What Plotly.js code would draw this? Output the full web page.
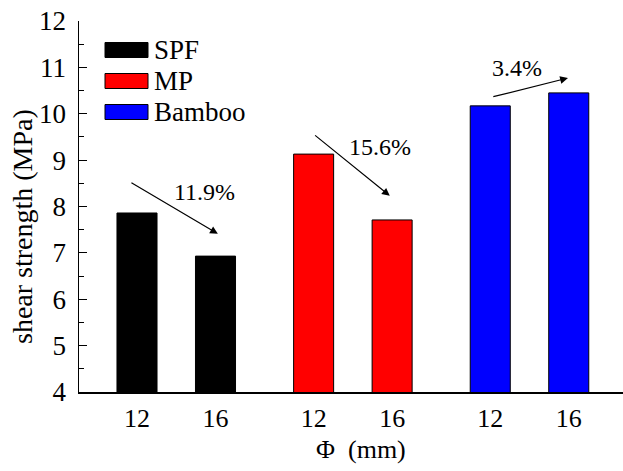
<!DOCTYPE html>
<html>
<head>
<meta charset="utf-8">
<script src="https://cdn.plot.ly/plotly-3.0.1.min.js"></script>
<style>html,body{margin:0;padding:0;background:#fff;overflow:hidden}#chart{width:623px;height:471px}</style>
</head>
<body>
<div id="chart"></div>
<script>
// ---- data ----
const groups = ['SPF', 'MP', 'Bamboo'];
const diameters = ['12', '16'];
const spfValues = [7.86, 6.93];
const mpValues = [9.13, 7.71];
const bambooValues = [10.17, 10.45];
const changeLabels = ['11.9%', '15.6%', '3.4%'];
const yTickLabels = ['4', '5', '6', '7', '8', '9', '10', '11', '12'];
const xTitle = 'Φ\u00a0\u00a0(mm)';
const yTitle = 'shear strength (MPa)';

// ---- styles / layout helpers ----
const seriesValues = [spfValues, mpValues, bambooValues];
const fillColors = ['#000000', '#ff0000', '#0000ff'];
const FONT = 'Liberation Serif';
const GROUP_STEP = 2.25;            // distance between group starts (bar units)
const xPos = (g, i) => g * GROUP_STEP + i;

// plot area in pixels
const L = 79, T = 21, R = 623, B = 392, W = 623, H = 471;
const pxToPaperX = px => (px - L) / (R - L);
const pxToPaperY = py => (B - py) / (B - T);

const traces = groups.map((name, g) => ({
  type: 'bar',
  name: name,
  x: diameters.map((d, i) => xPos(g, i)),
  y: seriesValues[g],
  width: 0.51,
  marker: {color: fillColors[g], line: {color: '#000', width: 1}},
  showlegend: false,
  hoverinfo: 'y'
}));

// tick positions for labels (one per bar)
const tickVals = [], tickText = [];
groups.forEach((g, gi) => diameters.forEach((d, i) => { tickVals.push(xPos(gi, i)); tickText.push(d); }));

// custom legend (wide swatches like the original)
const shapes = [], annotations = [];
const legendRows = [50, 81, 112];
groups.forEach((name, g) => {
  const cy = legendRows[g];
  shapes.push({type: 'rect', xref: 'paper', yref: 'paper',
    x0: pxToPaperX(105), x1: pxToPaperX(148), y0: pxToPaperY(cy - 7.5), y1: pxToPaperY(cy + 7.5),
    fillcolor: fillColors[g], line: {color: '#000', width: 1}});
  annotations.push({xref: 'paper', yref: 'paper', x: pxToPaperX(152), y: pxToPaperY(cy),
    xanchor: 'left', yanchor: 'middle', showarrow: false, text: name,
    font: {family: FONT, size: 27, color: '#000'}});
});

// change arrows (decoration) and percent labels
const arrows = [
  {tail: [-0.09, 8.53], head: [1.03, 7.41], label: [0.86, 8.31]},
  {tail: [2.25, 9.56], head: [3.22, 8.23], label: [3.10, 9.28]},
  {tail: [4.52, 10.36], head: [5.49, 10.77], label: [4.84, 10.99]}
];
arrows.forEach((a, k) => {
  annotations.push({x: a.head[0], y: a.head[1], ax: a.tail[0], ay: a.tail[1],
    xref: 'x', yref: 'y', axref: 'x', ayref: 'y', text: '', showarrow: true,
    arrowhead: 2, arrowsize: 1.3, arrowwidth: 1.2, arrowcolor: '#000', standoff: 0, startstandoff: 0});
  annotations.push({x: a.label[0], y: a.label[1], xref: 'x', yref: 'y', showarrow: false,
    text: changeLabels[k], font: {family: FONT, size: 24, color: '#000'}});
});

// axis titles placed as in the reference (slightly off-centre)
annotations.push({xref: 'paper', yref: 'paper', x: pxToPaperX(361), y: pxToPaperY(449),
  xanchor: 'center', yanchor: 'middle', showarrow: false, text: xTitle,
  font: {family: FONT, size: 26, color: '#000'}, borderpad: 0});
annotations.push({xref: 'paper', yref: 'paper', x: pxToPaperX(22), y: pxToPaperY(227),
  xanchor: 'center', yanchor: 'middle', showarrow: false, text: yTitle, textangle: -90,
  font: {family: FONT, size: 28, color: '#000'}});

const layout = {
  width: W, height: H,
  margin: {l: L, r: W - R, t: T, b: H - B, pad: 0},
  paper_bgcolor: '#fff', plot_bgcolor: '#fff',
  font: {family: FONT, color: '#000'},
  showlegend: false,
  bargap: 0,
  xaxis: {
    range: [(L - 137) / 78.5, (R - 137) / 78.5],
    tickmode: 'array', tickvals: tickVals, ticktext: tickText,
    ticks: '', showgrid: false, zeroline: false,
    showline: true, linecolor: '#000', linewidth: 1.5,
    tickfont: {family: FONT, size: 26, color: '#000'},
    ticklabelstandoff: 2,
    fixedrange: true
  },
  xaxis2: {
    overlaying: 'x', side: 'top', anchor: 'y',
    range: [L, R], tickmode: 'array',
    tickvals: [133, 188, 243, 298, 353, 408, 463, 518, 573],
    ticks: 'inside', ticklen: 4, tickwidth: 1, tickcolor: '#000',
    showticklabels: false, showgrid: false, zeroline: false,
    showline: true, linecolor: '#000', linewidth: 1.5
  },
  xaxis3: {
    overlaying: 'x', side: 'bottom', anchor: 'y',
    range: [L, R], tickmode: 'array',
    tickvals: [313.5, 392],
    ticks: 'inside', ticklen: 8, tickwidth: 1, tickcolor: '#000',
    minor: {tickmode: 'array', tickvals: [274, 353, 431], ticks: 'inside', ticklen: 4, tickwidth: 1, tickcolor: '#000'},
    showticklabels: false, showgrid: false, zeroline: false, showline: false
  },
  yaxis: {
    range: [4, 12], tickmode: 'array',
    tickvals: yTickLabels.map(Number), ticktext: yTickLabels,
    ticks: 'inside', ticklen: 8, tickwidth: 1, tickcolor: '#000',
    minor: {dtick: 0.5, ticks: 'inside', ticklen: 5, tickwidth: 1, tickcolor: '#000', showgrid: false},
    showgrid: false, zeroline: false,
    showline: true, linecolor: '#000', linewidth: 1.5,
    tickfont: {family: FONT, size: 27, color: '#000'},
    ticklabelstandoff: 6,
    fixedrange: true
  },
  shapes: shapes,
  annotations: annotations
};

Plotly.newPlot('chart', traces, layout, {staticPlot: true, displayModeBar: false});
</script>
</body>
</html>
